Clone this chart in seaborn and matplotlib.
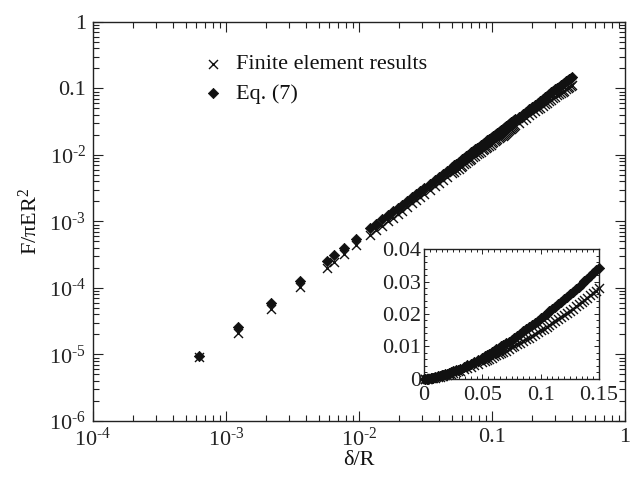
import matplotlib
matplotlib.use("Agg")
import matplotlib.pyplot as plt
from matplotlib.ticker import (FixedLocator, FixedFormatter, LogLocator,
                               NullFormatter, MultipleLocator)
import pandas as pd
import seaborn as sns

# Normalised indentation depth delta/R
delta_over_R = [
    0.00063, 0.00123, 0.00218, 0.0036, 0.0057, 0.0065, 0.0077, 0.0095, 0.0121,
    0.0135, 0.015, 0.0165, 0.018, 0.0195, 0.021, 0.023, 0.025, 0.027, 0.029,
    0.031, 0.034, 0.037, 0.040, 0.043, 0.046,
    0.050, 0.052, 0.054, 0.056, 0.058, 0.060, 0.062, 0.064, 0.066, 0.068,
    0.070, 0.0725, 0.075, 0.0775, 0.080, 0.0825, 0.085, 0.0875, 0.090,
    0.0925, 0.095, 0.0975, 0.100, 0.1025, 0.105, 0.1075, 0.110, 0.1125,
    0.115, 0.1175, 0.120, 0.1225, 0.125, 0.1275, 0.130, 0.1325, 0.135,
    0.1375, 0.140, 0.1425, 0.145, 0.1475, 0.150,
    0.16, 0.17, 0.18, 0.19, 0.20, 0.21, 0.22, 0.23, 0.24, 0.25, 0.26, 0.27,
    0.28, 0.29, 0.30, 0.31, 0.32, 0.33, 0.34, 0.35, 0.36, 0.37, 0.38, 0.39,
    0.40,
]

# Normalised force F/(pi E R^2) from the finite element runs
force_fe = [
    9.2e-6, 2.14e-5, 4.9e-5, 1.02e-4, 2.03e-4, 2.47e-4, 3.19e-4, 4.37e-4,
    6.28e-4,
    7.40e-4, 8.67e-4, 1.000e-3, 1.140e-3, 1.285e-3, 1.436e-3, 1.646e-3,
    1.866e-3, 2.094e-3, 2.331e-3, 2.576e-3, 2.959e-3, 3.359e-3, 3.776e-3,
    4.209e-3, 4.657e-3,
    5.277e-3, 5.597e-3, 5.923e-3, 6.255e-3, 6.593e-3, 6.937e-3, 7.287e-3,
    7.642e-3, 8.003e-3, 8.370e-3,
    0.008742, 0.009214, 0.009695, 0.010183, 0.01068, 0.011185, 0.01170,
    0.012217, 0.01274, 0.013279, 0.01382, 0.01437, 0.01493, 0.015489,
    0.01606, 0.016636, 0.01722, 0.01781, 0.01841, 0.01901, 0.01962, 0.02028,
    0.02090, 0.02165, 0.02240, 0.02305, 0.02370, 0.02434, 0.02500, 0.02571,
    0.02640, 0.02721, 0.02800,
    0.03059, 0.03341, 0.03627, 0.03924, 0.04222, 0.04531, 0.04840, 0.05161,
    0.05480, 0.05812, 0.06140, 0.06481, 0.06818, 0.07168, 0.07513, 0.07872,
    0.08224, 0.08590, 0.08948, 0.09322, 0.09685, 0.10065, 0.10435, 0.10821,
    0.11195,
]

# Normalised force predicted by Eq. (7)
force_eq7 = [
    9.33e-6, 2.55e-5, 6.0e-5, 1.27e-4, 2.54e-4, 3.09e-4, 3.99e-4, 5.46e-4,
    7.85e-4,
    9.25e-4, 1.084e-3, 1.250e-3, 1.425e-3, 1.607e-3, 1.795e-3, 2.058e-3,
    2.332e-3, 2.618e-3, 2.914e-3, 3.220e-3, 3.699e-3, 4.199e-3, 4.720e-3,
    5.261e-3, 5.821e-3,
    6.596e-3, 6.996e-3, 7.404e-3, 7.819e-3, 8.241e-3, 8.671e-3, 9.108e-3,
    9.553e-3, 0.010004, 0.010462,
    0.010927, 0.011518, 0.012118, 0.012729, 0.013350, 0.013981, 0.014621,
    0.015271, 0.015930, 0.016598, 0.017276, 0.017962, 0.018657, 0.019361,
    0.020074, 0.020795, 0.021525, 0.022262, 0.023009, 0.023763, 0.024526,
    0.025296, 0.026074, 0.026860, 0.027655, 0.028456, 0.029265, 0.030082,
    0.030906, 0.031737, 0.032577, 0.033423, 0.034276,
    0.03776, 0.041355, 0.045057, 0.048863, 0.052771, 0.056778, 0.060882,
    0.065077, 0.069372, 0.07375, 0.078218, 0.082775, 0.087415, 0.092140,
    0.096948, 0.10183, 0.10680, 0.11185, 0.11697, 0.12217, 0.12744, 0.13279,
    0.13821, 0.14370, 0.14926,
]

series_labels = ["Finite element results", "Eq. (7)"]

main_xticks = [1e-4, 1e-3, 1e-2, 0.1, 1]
main_xticklabels = ["$10^{\u2010 4}$", "$10^{\u2010 3}$", "$10^{\u2010 2}$", "0.1", "1"]
main_yticks = [1e-6, 1e-5, 1e-4, 1e-3, 1e-2, 0.1, 1]
main_yticklabels = ["$10^{\u2010 6}$", "$10^{\u2010 5}$", "$10^{\u2010 4}$",
                    "$10^{\u2010 3}$", "$10^{\u2010 2}$", "0.1", "1"]

inset_xticks = [0, 0.05, 0.1, 0.15]
inset_xticklabels = ["0", "0.05", "0.1", "0.15"]
inset_yticks = [0, 0.01, 0.02, 0.03, 0.04]
inset_yticklabels = ["0", "0.01", "0.02", "0.03", "0.04"]
inset_xmax = 0.15

df = pd.DataFrame({"d": delta_over_R, "fe": force_fe, "eq": force_eq7})

FS = 16

sns.set_theme(style="ticks")
plt.rcParams.update({
    "font.family": ["Liberation Serif", "DejaVu Serif"],
    "mathtext.fontset": "custom",
    "mathtext.rm": "Liberation Serif",
    "mathtext.it": "Liberation Serif:italic",
    "mathtext.bf": "Liberation Serif:bold",
    "font.size": FS,
    "axes.linewidth": 1.0,
    "axes.edgecolor": "#222222",
    "xtick.color": "#222222",
    "ytick.color": "#222222",
    "text.color": "#111111",
    "axes.labelcolor": "#111111",
})

ink = "#111111"

fig = plt.figure(figsize=(6.36, 4.82), dpi=100)
ax = fig.add_axes([0.1462, 0.1266, 0.8365, 0.8278])

sns.scatterplot(data=df, x="d", y="fe", marker="x", s=42, color=ink,
                linewidth=1.0, ax=ax, label=series_labels[0], zorder=2)
sns.scatterplot(data=df, x="d", y="eq", marker="D", s=27, color=ink,
                edgecolor=ink, linewidth=0.6, ax=ax, label=series_labels[1],
                zorder=3)

ax.set_xscale("log")
ax.set_yscale("log")
ax.set_xlim(1e-4, 1)
ax.set_ylim(1e-6, 1)

ax.xaxis.set_major_locator(FixedLocator(main_xticks))
ax.xaxis.set_major_formatter(FixedFormatter(main_xticklabels))
ax.yaxis.set_major_locator(FixedLocator(main_yticks))
ax.yaxis.set_major_formatter(FixedFormatter(main_yticklabels))
ax.xaxis.set_minor_locator(LogLocator(base=10, subs=range(2, 10), numticks=30))
ax.yaxis.set_minor_locator(LogLocator(base=10, subs=range(2, 10), numticks=30))
ax.xaxis.set_minor_formatter(NullFormatter())
ax.yaxis.set_minor_formatter(NullFormatter())

ax.tick_params(which="both", direction="in", top=True, right=True,
               labelsize=FS, width=0.8)
ax.tick_params(which="major", length=7.5, pad=5)
ax.tick_params(which="minor", length=4.3)

ax.set_xlabel("\u03b4/R", fontsize=FS, labelpad=0)
ax.set_ylabel("F/\u03c0ER$^{2}$", fontsize=FS, labelpad=5)

ax.legend(loc="upper left", bbox_to_anchor=(0.207, 0.92), frameon=False,
          borderpad=0, borderaxespad=0, handlelength=0.85, handletextpad=0.65,
          labelspacing=0.4, fontsize=FS, scatterpoints=1)

# Inset: the same data on linear axes for small indentation depths
ins = fig.add_axes([0.6667, 0.2137, 0.2752, 0.2697])
sub = df[df["d"] <= inset_xmax]
sns.scatterplot(data=sub, x="d", y="fe", marker="x", s=42, color=ink,
                linewidth=1.0, ax=ins, zorder=2, clip_on=False, legend=False)
sns.scatterplot(data=sub, x="d", y="eq", marker="D", s=27, color=ink,
                edgecolor=ink, linewidth=0.6, ax=ins, zorder=3, clip_on=False,
                legend=False)
ins.set_xlim(0, inset_xmax)
ins.set_ylim(0, 0.04)
ins.xaxis.set_major_locator(FixedLocator(inset_xticks))
ins.xaxis.set_major_formatter(FixedFormatter(inset_xticklabels))
ins.yaxis.set_major_locator(FixedLocator(inset_yticks))
ins.yaxis.set_major_formatter(FixedFormatter(inset_yticklabels))
ins.xaxis.set_minor_locator(MultipleLocator(0.005))
ins.yaxis.set_minor_locator(MultipleLocator(0.002))
ins.tick_params(which="both", direction="in", top=True, right=True,
                labelsize=FS, width=0.7)
ins.tick_params(axis="x", which="major", length=3.6, pad=5)
ins.tick_params(axis="y", which="major", length=3.6, pad=2)
ins.tick_params(which="minor", length=2.0)
ins.set_xlabel("")
ins.set_ylabel("")

fig.savefig("out.png", dpi=100)
